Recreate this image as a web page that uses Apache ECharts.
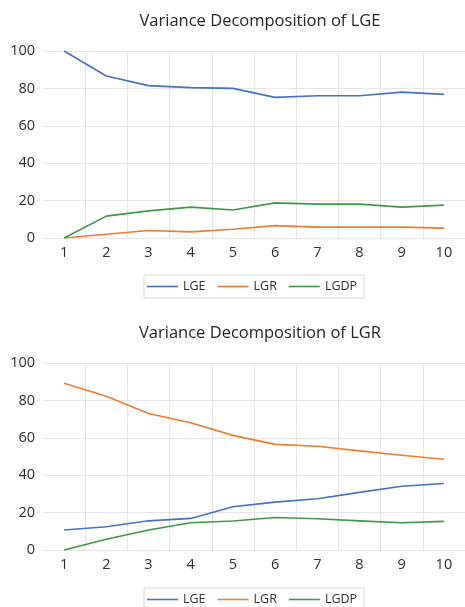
<!DOCTYPE html>
<html>
<head>
<meta charset="utf-8">
<script src="https://cdn.jsdelivr.net/npm/echarts@6/dist/echarts.min.js"></script>
<style>html,body{margin:0;padding:0;background:#fff;}#c{width:465px;height:607px;}</style>
</head>
<body>
<div id="c"></div>
<script>
var periods = ['1','2','3','4','5','6','7','8','9','10'];
var yTicks = [0, 20, 40, 60, 80, 100];
var seriesNames = ['LGE', 'LGR', 'LGDP'];
var colors = ['#4472C4', '#ED7D31', '#3C9A45'];
var titles = ['Variance Decomposition of LGE', 'Variance Decomposition of LGR'];

// Chart 1: Variance Decomposition of LGE
var lgeShock_LGE  = [100, 86.6, 81.5, 80.4, 80.0, 75.2, 76.1, 76.1, 78.0, 76.8];
var lgeShock_LGR  = [0, 2.0, 4.0, 3.3, 4.7, 6.6, 5.8, 5.8, 5.8, 5.3];
var lgeShock_LGDP = [0, 11.7, 14.5, 16.5, 15.0, 18.8, 18.1, 18.1, 16.5, 17.6];

// Chart 2: Variance Decomposition of LGR
var lgrShock_LGE  = [10.7, 12.4, 15.6, 16.9, 23.1, 25.6, 27.4, 30.8, 34.1, 35.6];
var lgrShock_LGR  = [89.2, 82.2, 73.0, 68.0, 61.3, 56.5, 55.5, 53.0, 50.7, 48.5];
var lgrShock_LGDP = [0, 5.7, 10.7, 14.6, 15.5, 17.4, 16.7, 15.6, 14.6, 15.3];

var chart = echarts.init(document.getElementById('c'), null, {renderer: 'canvas'});
var font = 'Open Sans';
var txt = '#303030';
var gridTops = [51, 363];
var legendTops = [275, 588];
var titleTops = [8, 320];
var data = [[lgeShock_LGE, lgeShock_LGR, lgeShock_LGDP], [lgrShock_LGE, lgrShock_LGR, lgrShock_LGDP]];

var option = {
  animation: false,
  backgroundColor: '#fff',
  title: [0,1].map(function(i){ return {
    text: titles[i], left: 255, top: titleTops[i], textAlign: 'center',
    textStyle: {fontFamily: font, fontSize: 16.5, fontWeight: 'normal', color: '#262626'}
  };}),
  legend: [0,1].map(function(i){ return {
    left: 144, top: legendTops[i],
    data: seriesNames.map(function(n){ return n + (i ? ' ' : ''); }),
    formatter: function(n){ return n.trim(); },
    icon: 'rect',
    borderColor: '#D9D9D9', borderWidth: 1, padding: [5, 7, 5, 3],
    itemWidth: 31, itemHeight: 1.6, itemGap: 12,
    textStyle: {fontFamily: font, fontSize: 12.5, color: txt}
  };}),
  grid: [0,1].map(function(i){ return {left: 43, top: gridTops[i], width: 425, height: 187}; }),
  xAxis: [0,1].map(function(i){ return {
    type: 'category', gridIndex: i, data: periods, boundaryGap: true,
    axisLine: {show: false}, axisTick: {show: false},
    axisLabel: {fontFamily: font, fontSize: 14.5, color: txt, margin: 7},
    splitLine: {show: true, interval: function(idx){ return idx !== 0; }, lineStyle: {color: '#E6E6E6', width: 1}}
  };}),
  yAxis: [0,1].map(function(i){ return {
    type: 'value', gridIndex: i, min: yTicks[0], max: yTicks[yTicks.length-1], interval: 20,
    axisLine: {show: false}, axisTick: {show: false},
    axisLabel: {fontFamily: font, fontSize: 14.5, color: txt, margin: 8},
    splitLine: {show: true, lineStyle: {color: '#E6E6E6', width: 1}}
  };}),
  series: []
};
[0,1].forEach(function(i){
  seriesNames.forEach(function(n, k){
    option.series.push({
      name: n + (i ? ' ' : ''), type: 'line', xAxisIndex: i, yAxisIndex: i,
      data: data[i][k], symbol: 'none', smooth: false,
      lineStyle: {color: colors[k], width: 1.6}, itemStyle: {color: colors[k]}
    });
  });
});
chart.setOption(option);
</script>
</body>
</html>
